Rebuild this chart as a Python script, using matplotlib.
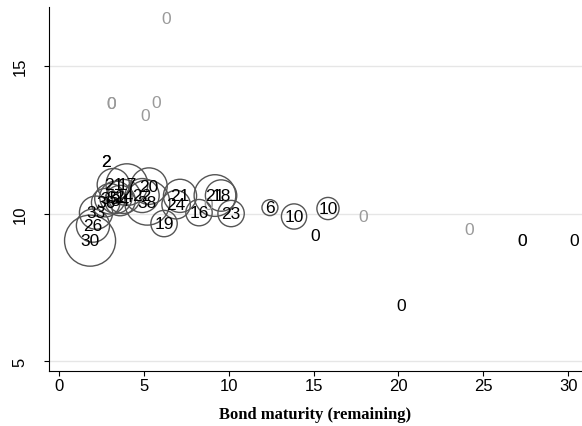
import numpy as np
import matplotlib.pyplot as plt

# bubbles: remaining maturity, value, label, weight
mat = [1.83, 2.0, 2.18, 2.75, 3.0, 3.35, 3.8, 3.6, 3.2, 4.0, 5.3, 4.9, 5.2,
       6.9, 7.13, 6.19, 8.25, 9.19, 9.55, 10.14, 12.43, 13.85, 15.85]
val = [9.08, 9.59, 10.03, 10.37, 10.5, 10.55, 10.58, 10.44, 10.98, 10.98, 10.93,
       10.61, 10.37, 10.3, 10.6, 9.66, 10.03, 10.61, 10.61, 10.0, 10.2, 9.9, 10.17]
lab = ['30', '26', '33', '36', '35', '31', '24', '34', '21', '17', '20',
       '22', '38', '24', '21', '19', '16', '21', '18', '23', '6', '10', '10']
wt = [450, 190, 190, 140, 160, 180, 200, 160, 180, 300, 230,
      200, 350, 140, 190, 120, 120, 300, 170, 120, 44, 110, 85]

# zero-weight points, black labels
mat0 = [2.77, 2.77, 15.1, 27.3, 30.35, 20.15]
val0 = [11.76, 11.76, 9.26, 9.09, 9.09, 6.89]
lab0 = ['2', '2', '0', '0', '0', '0']

# zero-weight points, grey labels
matg = [6.3, 3.1, 3.1, 5.7, 5.1, 17.9, 24.2, 27.3, 8.8]
valg = [16.62, 13.72, 13.72, 13.75, 13.34, 9.9, 9.46, 9.09, 10.3]

fig, ax = plt.subplots(figsize=(5.82, 4.27), dpi=100)
fig.subplots_adjust(left=0.0842, right=1.0, bottom=0.1288, top=0.981)

ax.scatter(mat, val, s=np.array(wt) * 3, facecolors='none',
           edgecolors='#555555', linewidths=1.0, zorder=3)
for x, y in zip(matg, valg):
    ax.text(x, y, '0', ha='center', va='center', fontsize=12.5,
            family='Liberation Sans', color='#9a9a9a', zorder=4)
for x, y, t in zip(mat, val, lab):
    ax.text(x, y, t, ha='center', va='center', fontsize=12.5,
            family='Liberation Sans', color='black', zorder=5)
for x, y, t in zip(mat0, val0, lab0):
    ax.text(x, y, t, ha='center', va='center', fontsize=12.5,
            family='Liberation Sans', color='black', zorder=5)

ax.set_xlim(-0.59, 30.82)
ax.set_ylim(4.66, 17.0)
ax.set_xticks([0, 5, 10, 15, 20, 25, 30])
ax.set_yticks([5, 10, 15])
ax.grid(axis='y', color='#e6e6e6', linewidth=1)
ax.set_axisbelow(True)
for s in ['top', 'right']:
    ax.spines[s].set_visible(False)
ax.tick_params(labelsize=12, length=3.6)
ax.tick_params(axis='x', pad=1.5)
ax.tick_params(axis='y', pad=12)
for t in ax.get_xticklabels() + ax.get_yticklabels():
    t.set_family('Liberation Sans')
plt.setp(ax.get_yticklabels(), rotation=90, va='center')
ax.set_xlabel('Bond maturity (remaining)', family='Liberation Serif',
              fontweight='bold', fontsize=12, labelpad=9)

fig.savefig('out.png')
